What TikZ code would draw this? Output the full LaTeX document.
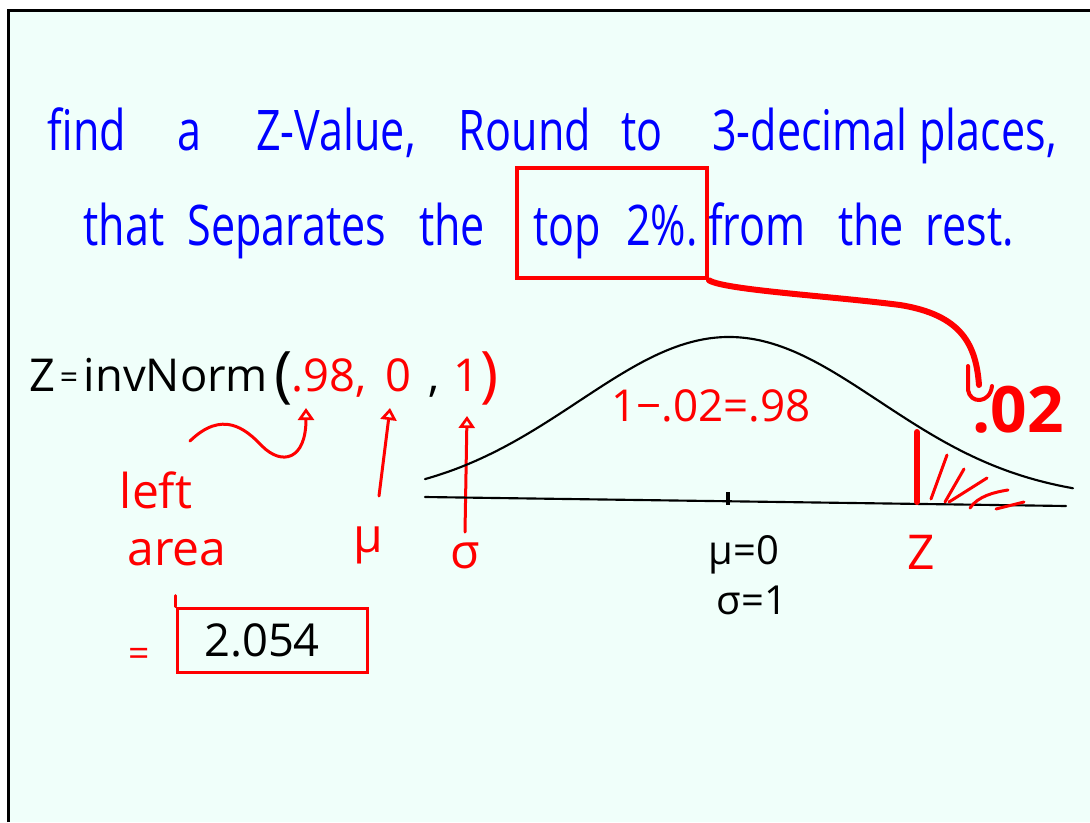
\documentclass[tikz,border=0pt]{standalone}
\usepackage{fontspec}
\setmainfont{Open Sans}
\usetikzlibrary{arrows.meta}
\definecolor{bgmint}{RGB}{240,255,250}
\definecolor{inkblue}{RGB}{0,0,255}
\definecolor{inkred}{RGB}{255,0,0}
\newcommand{\nw}[1]{\scalebox{0.77}[1]{#1}}
\begin{document}
\begin{tikzpicture}[x=0.75pt,y=-0.75pt,
  title/.style={text=inkblue, inner sep=0pt, anchor=base, font=\fontsize{42}{42}\selectfont},
  blk/.style={text=black, inner sep=0pt, anchor=base, font=\fontsize{34}{34}\selectfont},
  rd/.style={text=inkred, inner sep=0pt, anchor=base, font=\fontsize{34}{34}\selectfont},
  redline/.style={draw=inkred, line width=2.25pt, line cap=round, line join=round},
  redarrow/.style={redline, -{Triangle[open, length=9pt, width=12pt, line width=2pt]}},
  inkline/.style={draw=black, line width=1.6pt, line cap=round}
]
\useasboundingbox (0,0) rectangle (1090,822);
\fill[white] (0,0) rectangle (1090,822);
\fill[bgmint] (8.5,10) rectangle (1090,822);
\draw[line width=2.25pt] (8.5,822) -- (8.5,10) -- (1090,10);

% title line 1
\node[title] (w1) at (87,150) {\nw{find}};
\node[title] (w2) at (189,150) {\nw{a}};
\node[title] (w3) at (336,150) {\nw{Z-Value,}};
\node[title] (w4) at (525,150) {\nw{Round}};
\node[title] (w5) at (642,150) {\nw{to}};
\node[title] (w6) at (810,150) {\nw{3-decimal}};
\node[title] (w7) at (988,150) {\nw{places,}};
% title line 2
\node[title] (v1) at (124,245) {\nw{that}};
\node[title] (v2) at (287,245) {\nw{Separates}};
\node[title] (v3) at (452,245) {\nw{the}};
\node[title] (v4) at (567,245) {\nw{top}};
\node[title] (v5) at (662,245) {\nw{2\%.}};
\node[title] (v6) at (757,245) {\nw{from}};
\node[title] (v7) at (871,245) {\nw{the}};
\node[title] (v8) at (970,245) {\nw{rest.}};

% red box round "top 2%."
\node[draw=inkred, line width=3pt, minimum width=142.5pt, minimum height=83pt, inner sep=0pt] (topbox) at (612,223) {};
% connector to .02
\draw[redline, line width=4.5pt] (topbox.south east) .. controls (725,290) and (830,296) .. (900,305)
  .. controls (962,315) and (976,345) .. (979,385);
\draw[redline, line width=3pt] (968,366) -- (968,390) .. controls (970,404) and (990,404) .. (992,386);
\node[rd, font=\fontsize{48}{48}\selectfont\bfseries] (p02) at (1018,432) {.02};

% formula
\node[blk] (fz) at (42,391) {Z};
\node[blk, font=\fontsize{24}{24}\selectfont] (feq) at (69,388) {=};
\node[blk] (finv) at (176,391) {invNorm};
\node[blk, font=\fontsize{46}{46}\selectfont] (fpl) at (284,395) {(};
\node[rd] (f98) at (329,391) {.98,};
\node[rd] (f0) at (398,391) {0};
\node[blk] (fc) at (434,391) {,};
\node[rd] (f1) at (466,391) {1};
\node[rd, font=\fontsize{46}{46}\selectfont] (fpr) at (490,395) {)};

% labels
\node[rd, font=\fontsize{36}{36}\selectfont] (lleft) at (156,508) {left};
\node[rd, font=\fontsize{36}{36}\selectfont] (larea) at (177,565) {area};
\node[rd, font=\fontsize{36}{36}\selectfont] (lmu) at (368,552) {μ};
\node[rd, font=\fontsize{36}{36}\selectfont] (lsig) at (465,568) {σ};

% arrows
\coordinate (t98) at (306,408);
\coordinate (t0) at (390,408);
\coordinate (t1) at (467,416);
\coordinate (s98) at (190,441);
\coordinate (s0) at (379,496);
\coordinate (s1) at (465,532);
\draw[redarrow] (s98) .. controls (222,410) and (245,428) .. (262,446)
  .. controls (282,466) and (306,460) .. (t98);
\draw[redarrow] (s0) -- (t0);
\draw[redarrow] (s1) -- (t1);

% normal curve
\draw[inkline] (425,497) -- (1066,506);
\draw[inkline] plot[domain=425:1073, samples=90, smooth] (\x, {500 - 163*exp(-0.5*((\x-729)/150)*((\x-729)/150))});
\draw[line width=2.5pt] (728,492) -- (728,505);
\node[blk, font=\fontsize{30}{30}\selectfont] (mu0) at (744,564) {μ=0};
\node[blk, font=\fontsize{30}{30}\selectfont] (sg1) at (752,614) {σ=1};
\node[rd, font=\fontsize{33}{33}\selectfont] (diff) at (711,421) {1−.02=.98};

% tail shading
\draw[redline, line width=4.5pt] (917,432) -- (917,502);
\draw[redline] (931,499) -- (947,455);
\draw[redline] (945,502) -- (964,469);
\draw[redline] (949,502) -- (987,478);
\draw[redline] (970,508) .. controls (978,496) and (995,492) .. (1008,490);
\draw[redline] (996,509) -- (1024,502);
\node[rd, font=\fontsize{36}{36}\selectfont] (lz) at (921,569) {Z};

% answer
\node[rd, font=\fontsize{28}{28}\selectfont] (aeq) at (139,666) {=};
\node[draw=inkred, line width=2.25pt, minimum width=143pt, minimum height=48pt, inner sep=0pt] (abox) at (272.5,640) {};
\draw[redline] (abox.north west) -- ++(0,-11);
\node[blk] (ans) at (262,656) {2.054};
\end{tikzpicture}
\end{document}
